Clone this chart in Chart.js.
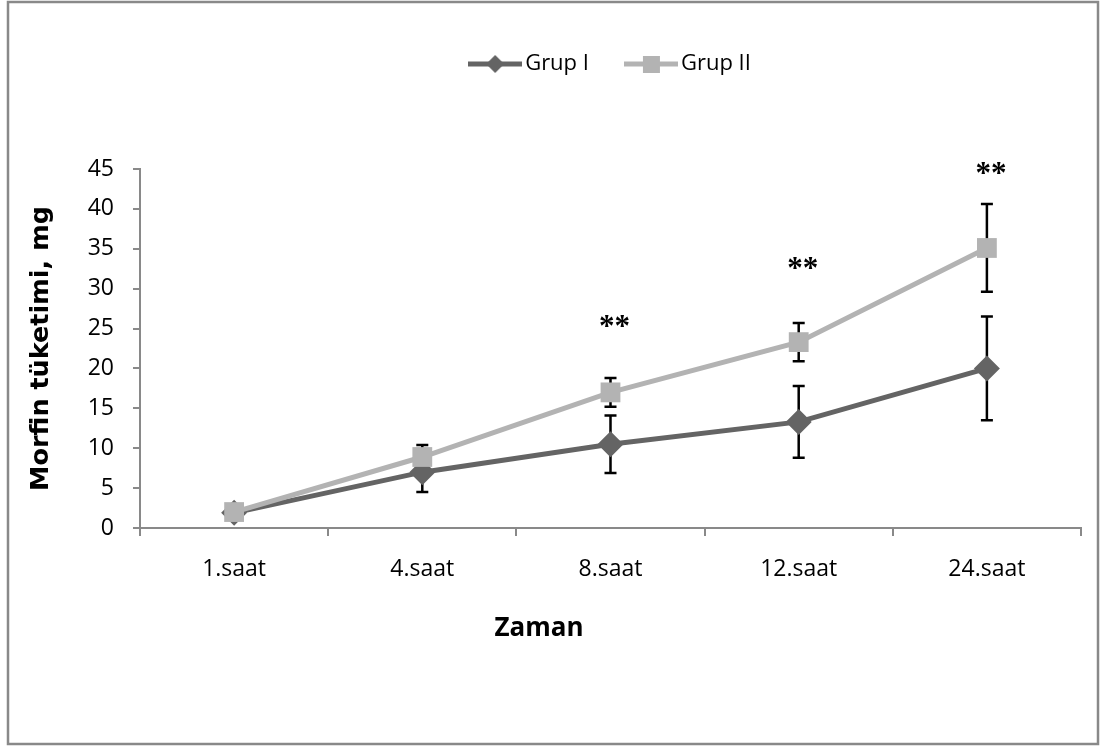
<!DOCTYPE html>
<html>
<head>
<meta charset="utf-8">
<title>Morfin tüketimi</title>
<script src="https://cdn.jsdelivr.net/npm/chart.js@4/dist/chart.umd.min.js"></script>
<style>
    body { margin: 0; background: #ffffff; }
    #wrap { width: 1101px; height: 747px; position: relative; }
</style>
</head>
<body>
<div id="wrap"><canvas id="morfinChart"></canvas></div>
<script>
// Chart data
const timeLabels = ['1.saat', '4.saat', '8.saat', '12.saat', '24.saat'];
const grup1Values = [1.9, 7.0, 10.5, 13.3, 20.0];
const grup1Errors = [0.5, 2.5, 3.6, 4.5, 6.5];
const grup2Values = [2.0, 8.9, 17.0, 23.3, 35.1];
const grup2Errors = [0.4, 1.5, 1.8, 2.4, 5.5];
// significance marks (text and the value where it sits)
const starText = ['', '', '**', '**', '**'];
const starLevel = [null, null, 25.7, 33.0, 44.9];
const yTicks = [0, 5, 10, 15, 20, 25, 30, 35, 40, 45];
const xTitle = 'Zaman';

const darkGray = '#646464';
const lightGray = '#b3b3b3';
const axisGray = '#898989';

// Legend symbol: a short line with the marker in the middle
function makeLegendIcon(color, shape) {
    const c = document.createElement('canvas');
    c.width = 54;
    c.height = 20;
    const ctx = c.getContext('2d');
    ctx.strokeStyle = color;
    ctx.lineWidth = 5;
    ctx.beginPath();
    ctx.moveTo(0, 10);
    ctx.lineTo(54, 10);
    ctx.stroke();
    ctx.fillStyle = color;
    ctx.beginPath();
    if (shape === 'diamond') {
        ctx.moveTo(27, 1);
        ctx.lineTo(36, 10);
        ctx.lineTo(27, 19);
        ctx.lineTo(18, 10);
    } else {
        ctx.rect(19, 2, 17, 17);
    }
    ctx.closePath();
    ctx.fill();
    return c;
}

const legendIcons = [makeLegendIcon(darkGray, 'diamond'), makeLegendIcon(lightGray, 'square')];

// Outer frame of the figure
const framePlugin = {
    id: 'frame',
    beforeDraw(chart) {
        const ctx = chart.ctx;
        ctx.save();
        ctx.strokeStyle = axisGray;
        ctx.lineWidth = 2.5;
        ctx.strokeRect(8, 2, 1090, 742);
        ctx.restore();
    }
};

// Fixed legend height and legend centred over the plot area
const legendLayoutPlugin = {
    id: 'legendLayout',
    beforeInit(chart) {
        const legend = chart.legend;
        const origFit = legend.fit;
        legend.fit = function() {
            origFit.call(this);
            this.height = 159;
        };
    },
    afterLayout(chart) {
        chart.legend.left = chart.chartArea.left + 3;
        chart.legend.right = chart.chartArea.right + 3;
    }
};

// Error bars (drawn before lines so the markers sit on top)
const errorBarPlugin = {
    id: 'errorBars',
    beforeDatasetsDraw(chart) {
        const ctx = chart.ctx;
        const yScale = chart.scales.y;
        const errorSets = [grup1Errors, grup2Errors];
        const valueSets = [grup1Values, grup2Values];
        ctx.save();
        ctx.strokeStyle = '#000000';
        ctx.lineWidth = 2.5;
        for (let i = 0; i < errorSets.length; i++) {
            const meta = chart.getDatasetMeta(i);
            meta.data.forEach((pt, j) => {
                const top = yScale.getPixelForValue(valueSets[i][j] + errorSets[i][j]);
                const bottom = yScale.getPixelForValue(valueSets[i][j] - errorSets[i][j]);
                ctx.beginPath();
                ctx.moveTo(pt.x, top);
                ctx.lineTo(pt.x, bottom);
                ctx.moveTo(pt.x - 6, top);
                ctx.lineTo(pt.x + 6, top);
                ctx.moveTo(pt.x - 6, bottom);
                ctx.lineTo(pt.x + 6, bottom);
                ctx.stroke();
            });
        }
        ctx.restore();
    }
};

// Significance asterisks and the x axis title (Excel puts it left of centre)
const textPlugin = {
    id: 'texts',
    afterDatasetsDraw(chart) {
        const ctx = chart.ctx;
        const xScale = chart.scales.x;
        const yScale = chart.scales.y;
        ctx.save();
        ctx.fillStyle = '#000000';
        ctx.font = 'bold 31px "Liberation Serif", "DejaVu Serif", serif';
        ctx.textAlign = 'center';
        ctx.textBaseline = 'middle';
        starText.forEach((txt, j) => {
            if (!txt) return;
            const x = xScale.getPixelForValue(j) + 4;
            const y = yScale.getPixelForValue(starLevel[j]);
            ctx.fillText(txt, x, y + 5);
        });
        ctx.font = 'bold 26px "Open Sans", sans-serif';
        ctx.fillText(xTitle, 539, 629);
        ctx.restore();
    }
};

const ctx = document.getElementById('morfinChart');

new Chart(ctx, {
    type: 'line',
    data: {
        labels: timeLabels,
        datasets: [{
            label: 'Grup I',
            data: grup1Values,
            borderColor: darkGray,
            backgroundColor: darkGray,
            borderWidth: 5,
            pointStyle: 'rectRot',
            pointRadius: 13,
            pointBorderWidth: 0,
            pointBackgroundColor: darkGray,
            tension: 0,
            order: 1
        }, {
            label: 'Grup II',
            data: grup2Values,
            borderColor: lightGray,
            backgroundColor: lightGray,
            borderWidth: 5,
            pointStyle: 'rect',
            pointRadius: 14,
            pointBorderWidth: 0,
            pointBackgroundColor: lightGray,
            tension: 0,
            order: 0
        }]
    },
    options: {
        responsive: true,
        maintainAspectRatio: false,
        animation: false,
        layout: {
            padding: { left: 20, right: 20, top: 10, bottom: 100 }
        },
        plugins: {
            tooltip: { enabled: false },
            legend: {
                display: true,
                position: 'top',
                align: 'center',
                labels: {
                    usePointStyle: true,
                    pointStyleWidth: 38,
                    padding: 43,
                    color: '#000000',
                    font: { family: '"Open Sans", sans-serif', size: 22 },
                    generateLabels(chart) {
                        return chart.data.datasets.map((ds, i) => ({
                            text: ds.label,
                            pointStyle: legendIcons[i],
                            fillStyle: ds.borderColor,
                            strokeStyle: ds.borderColor,
                            lineWidth: 0,
                            hidden: false,
                            datasetIndex: i,
                            fontColor: '#000000'
                        }));
                    }
                }
            }
        },
        scales: {
            x: {
                offset: true,
                grid: {
                    offset: true,
                    drawOnChartArea: false,
                    drawTicks: true,
                    tickLength: 8,
                    color: axisGray,
                    lineWidth: 2
                },
                border: { display: true, color: axisGray, width: 2 },
                ticks: {
                    color: '#000000',
                    padding: 20,
                    font: { family: '"Open Sans", sans-serif', size: 23 }
                },
                title: { display: false },
                afterFit(scale) {
                    scale.height = 119;
                }
            },
            y: {
                min: 0,
                max: 45,
                afterBuildTicks(scale) {
                    scale.ticks = yTicks.map(v => ({ value: v }));
                },
                grid: {
                    drawOnChartArea: false,
                    drawTicks: true,
                    tickLength: 7,
                    color: axisGray,
                    lineWidth: 2
                },
                border: { display: true, color: axisGray, width: 2 },
                ticks: {
                    color: '#000000',
                    padding: 19,
                    font: { family: '"Open Sans", sans-serif', size: 23 }
                },
                title: {
                    display: true,
                    text: 'Morfin tüketimi, mg',
                    color: '#000000',
                    padding: { top: 6, bottom: 0 },
                    font: { family: '"DejaVu Sans", sans-serif', size: 25.5, weight: 'bold' }
                },
                afterFit(scale) {
                    scale.width = 120;
                }
            }
        }
    },
    plugins: [framePlugin, legendLayoutPlugin, errorBarPlugin, textPlugin]
});
</script>
</body>
</html>
